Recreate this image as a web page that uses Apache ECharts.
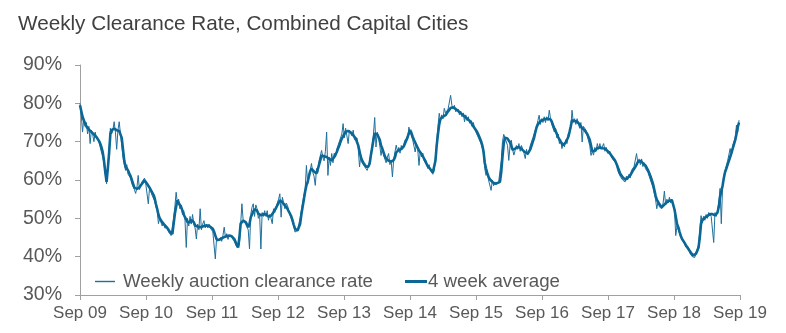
<!DOCTYPE html>
<html>
<head>
<meta charset="utf-8">
<script src="https://cdn.jsdelivr.net/npm/echarts@6/dist/echarts.min.js"></script>
<style>html,body{margin:0;padding:0;background:#fff;}#chart{width:786px;height:333px;}</style>
</head>
<body>
<div id="chart"></div>
<script>
var titleText = 'Weekly Clearance Rate, Combined Capital Cities';
var seriesNames = ['Weekly auction clearance rate', '4 week average'];
var xTickLabels = ['Sep 09','Sep 10','Sep 11','Sep 12','Sep 13','Sep 14','Sep 15','Sep 16','Sep 17','Sep 18','Sep 19'];
var startDate = '2009-09-06';

var weekly = [
80,77,72.5,76,74,75,72,74,69.5,73,
72,70,72.5,71,71.5,70,68.5,69,66,64,
61.5,59,63,68,73.5,72,73,75.2,72.5,68,
73,75.2,72,72.5,66,64,62.5,64,61.5,62,
60.5,59,58.5,57.5,56.5,58,61.2,57.5,58.5,59.5,
60,60.5,59,59.5,53.8,58,57,56,56.5,54.5,
53,52,48.6,50,49,48,49,47.5,47,47.5,
46.5,46,45.5,46,50,53,56.8,54,55,52.5,
53.5,51,52,49.5,42.4,50,48,50.5,48.5,51,
48.5,47.5,44.6,48.5,47,52.5,47,48.5,49.4,47.5,
48.5,47.5,48.5,47.5,48,46.5,47,39.4,45,44,
43.5,45,44,45.5,47.7,45,46,44.5,45.5,46,
45,44.5,44,43.5,42.5,42,43,48.5,53.8,49.5,
50,48.5,48,47,42,51,52.9,53.8,50.5,53.5,
52.5,50,51,42,51.5,50.5,52,50.5,52,49.5,
51,50,48.6,52.5,51.5,53,53,55,56.4,50.3,
55.5,54,52.5,54,53.4,52,51,50.5,49,48,
46.4,46.4,47,47.5,50,52,54,56,57.5,63.8,
59,61.5,62.5,64.3,62,61,58.6,63,62,65,
64.5,67.7,66,65,67.5,72.5,61.2,66,63.8,66.9,
64.5,67,66,68,67.5,70,69.5,72,74.7,71,
73.5,74,69.5,73,72.5,71.5,73,70.5,70.8,71,
68,63.4,66.5,64.5,65,63.5,64,62.5,63.5,65,
67,69,72,76.3,68.6,72.5,71,69,66.4,68.5,
66.5,67,64.5,66,66.9,64,65,60.8,65.5,66,
69.1,67.5,68.5,67,69,68,68.5,70.5,71,70.5,
73.8,72.5,71.5,70.5,71,67.3,69.5,68,63.8,67.5,
66,67,65,64.5,64,63,64,62.5,62,61.5,
62.5,66,70,74,77.4,75.5,77,76,78.7,77.5,
77,78.5,79,82.1,79.5,78.5,79.5,77.8,78,78.5,
77,78,76.5,77.5,75.2,77,75.5,76.5,74.8,75.5,
74,75,73.4,72.5,73,71,71.5,69.5,68.5,67,
63,61.2,62,60,59.5,57.3,60,58.5,59.5,58.8,
59,59.5,60,65,70,71.9,71,70.5,69,65.1,
69,70.4,68,66.5,67.7,69,68,69.5,67.5,69,
68.5,67,65.6,68,66.5,67.5,69,68.5,71,70.5,
73,74,75.5,76.9,74.5,76,75,76.5,75,76.5,
75.5,78.2,76,74.5,75,72.5,73.5,71,72,69.5,
70.5,68.2,69.5,68.6,70.5,69.5,72,72,73.5,78.2,
75,76,74.5,76,75.5,73.5,75,69.9,74,73.5,
73,71.5,72,69,66.4,67.5,66.5,68.5,67.5,69.5,
68,69.5,68,67.5,69.5,67.5,68.5,67,66.5,67.5,
66,66.5,65,64.5,64.5,62.5,63,61,61.5,60,
60.5,59.5,61,60,61.5,60.5,62.5,62,63.5,63,
66.9,64.5,65.5,64,65.5,63.5,64.5,63,63.5,62,
61.5,60,59.5,58,56.5,55,52.5,54.5,53,53.5,
52.5,54,57.1,53.5,55,54,55.5,54,55,53.5,
52,45.5,48,47.5,46,45,44.5,44,43.5,42.5,
42,42.5,41,41.5,40,40.5,39.8,41,42,43,
47,50.7,49,50.5,49.5,51,50,51.5,52,50.5,
51,43.7,51.5,50.5,52,54,57.8,48.6,58,61,
62.5,62,65,64.5,68.2,66.5,69,70,71,74.3,72.5,75.6
];

var average = [
79.5,78,76.5,75.6,74.8,74,73.5,73.2,72.8,72.5,
72.2,71.9,71.5,71.2,70.8,70.2,69.5,68.5,67.2,65,
62,59.5,63,67,72,73,73.4,73.4,73.2,73,
73,72.8,72.5,71,68,65,63.5,63,62.5,61.7,
61,60,59,58,57.7,57.7,58,58.1,58.5,59,
59.5,59.9,59.5,59,58.6,58,57.5,56.8,56.2,55.3,
53.8,52.5,51,50,49.5,49,48.6,48.2,47.8,47.5,
47,46.5,46.2,45.9,48.5,51.2,53,54.7,54,53.5,
52.9,52,51,50.3,49.8,49,48.6,49,49.6,49.9,
49,48.1,48,47.9,47.8,47.7,47.8,47.9,48,48.1,
48.1,48.1,48,47.8,47.5,47.3,46.5,45.5,44.5,44.2,
44.4,44.6,44.8,45,45.1,45.2,45.3,45.4,45.5,45.5,
45.3,45,44.6,43.8,43,42.4,45,48.6,49,49.4,
49.4,49,48.4,47.7,48.5,50.3,51,51.8,52.4,52.9,
52,51.2,50.7,50.8,51,51.1,51.2,51,50.7,50.5,
50.3,50.7,51.2,51.6,52,52.7,53.4,54,54.7,54.5,
54.2,53.8,53.4,53,52.5,51.8,51.2,50.5,49.5,48.3,
47.3,47,46.8,47,48.5,51,53,55,57,58.6,
59.5,61,62.3,63,62.6,62.2,61.9,61.7,62.8,64,
65.2,66.4,66.3,66.2,66.1,66,65.8,65.5,65.3,65.1,
65.5,66,66.6,67.3,68.2,69,70,70.8,71.4,72,
72.6,73,72.8,72.6,72.4,72.1,71.7,71.3,70.8,70.4,
69,67.5,66,65.1,64.5,64,63.5,63,63.5,64.3,
66.5,68.5,70.5,72.1,72,71.9,71.7,70.5,69,68.2,
67.2,66.2,65.6,65.1,65,64.9,64.8,64.7,65.2,65.9,
67.2,67.7,67.8,68,68.1,68.2,68.8,69.6,70.4,71.2,
72.2,73,72.3,71.3,70.5,69.8,69,68.4,67.7,67.3,
66.8,66.2,65.6,65,64.2,63.6,63.2,62.8,62.4,62,
62,65,69,72,74.5,76,76.3,76.5,76.7,76.9,
77.4,77.9,78.4,78.8,79.1,79,78.8,78.5,78.2,78,
77.7,77.4,77.2,76.9,76.6,76.3,76,75.7,75.4,75.2,
74.5,74,73.5,73,72.5,71.8,71,70.2,69.1,67.5,
64.5,63,61.8,60.8,60.2,59.8,59.5,59.2,59,59,
59.2,59.4,59.5,62,66,69.5,71,71.2,70.8,70.4,
69.8,68.8,67.9,67.8,68.2,68.4,68.6,68.5,68.4,68.2,
67.8,67.4,67.2,67,66.9,67.3,68,69,70,71,
72.5,73.8,74.5,75,75.4,75.6,75.7,75.8,75.9,76,
76,76,75.8,75.2,74.3,73.5,72.8,72,71.2,70.6,
70,69.5,69.1,69.3,69.8,70.3,71.2,72.5,74,75.6,
75.5,75.4,75.3,75.2,74.9,74.5,74,73.5,73.2,73,
72.5,72,71.7,70.5,69,67.5,67.3,67.6,68,68.3,
68.6,68.5,68.4,68.3,68.2,68.2,67.9,67.6,67.3,66.9,
66.5,66,65.6,65.1,64.3,63.5,62.6,61.7,61.2,60.7,
60.3,60.1,60.3,60.6,61,61.2,61.8,62.4,62.9,63.4,
64,64.7,65.1,65,64.7,64.4,64.3,63.8,63.2,62.6,
61.8,61,60,59,57.5,56,54.9,54.3,53.7,53.2,
52.9,53.2,53.6,54,54.2,54.4,54.6,54.7,54.7,54.4,
52.3,50.5,48.5,47.7,46.5,45.4,44.6,44.2,43.6,43,
42.5,42,41.5,41,40.6,40.3,40.3,40.8,41.5,42.4,
45,48.6,49.5,50,50.2,50.3,50.6,50.9,51.1,51.2,
51.1,50.9,50.8,50.7,51.5,53,55.5,57,58.5,60.5,
62.1,63,64,65,66,67,68.2,69.3,70.4,72,73.8,75
];

// x position = years elapsed since the first week (Sep 2009)
var start = new Date(startDate + 'T00:00:00Z').getTime();
function toPairs(arr) {
  return arr.map(function (v, i) {
    var t = start + i * 7 * 86400000;
    return [(t - start) / (365.25 * 86400000), v];
  });
}

var font = "'Liberation Sans', Arial, sans-serif";
var weeklyColor = '#1f6f9c';
var avgColor = '#0b6796';
var chart = echarts.init(document.getElementById('chart'), null, {renderer: 'canvas'});
chart.setOption({
  animation: false,
  backgroundColor: '#ffffff',
  textStyle: {fontFamily: font},
  title: {
    text: titleText,
    left: 18, top: 14, padding: 0,
    textStyle: {fontFamily: font, fontSize: 20.7, fontWeight: 'normal', color: '#404040'}
  },
  legend: [
    {
      data: [seriesNames[0]], left: 95, top: 272, padding: 0,
      icon: 'rect', itemWidth: 20, itemHeight: 1.4,
      itemStyle: {color: weeklyColor},
      textStyle: {fontFamily: font, fontSize: 18.7, color: '#595959', padding: [0, 0, 0, 3]}
    },
    {
      data: [seriesNames[1]], left: 405, top: 272, padding: 0,
      icon: 'rect', itemWidth: 22, itemHeight: 3,
      itemStyle: {color: avgColor},
      textStyle: {fontFamily: font, fontSize: 18.7, color: '#595959', padding: [0, 0, 0, -4]}
    }
  ],
  grid: {left: 80, right: 46, top: 65, bottom: 38, containLabel: false},
  xAxis: {
    type: 'value', min: 0, max: 10, interval: 1,
    axisLine: {show: true, lineStyle: {color: '#a0a0a0', width: 1}},
    axisTick: {show: true, length: 5, lineStyle: {color: '#a0a0a0'}},
    splitLine: {show: false},
    axisLabel: {
      margin: 10, fontSize: 17, color: '#595959', fontFamily: font,
      formatter: function (v) { return xTickLabels[Math.round(v)] || ''; }
    }
  },
  yAxis: {
    type: 'value', min: 30, max: 90, interval: 10,
    axisLine: {show: true, lineStyle: {color: '#a0a0a0', width: 1}},
    axisTick: {show: true, length: 5, lineStyle: {color: '#a0a0a0'}},
    splitLine: {show: false},
    axisLabel: {margin: 18, fontSize: 19.5, color: '#595959', fontFamily: font, formatter: '{value}%'}
  },
  series: [
    {
      name: seriesNames[0], type: 'line', data: toPairs(weekly),
      symbol: 'none', lineStyle: {width: 1, color: weeklyColor}, itemStyle: {color: weeklyColor}, z: 2
    },
    {
      name: seriesNames[1], type: 'line', data: toPairs(average),
      symbol: 'none', lineStyle: {width: 2.6, color: avgColor}, itemStyle: {color: avgColor}, z: 3
    }
  ]
});
</script>
</body>
</html>
